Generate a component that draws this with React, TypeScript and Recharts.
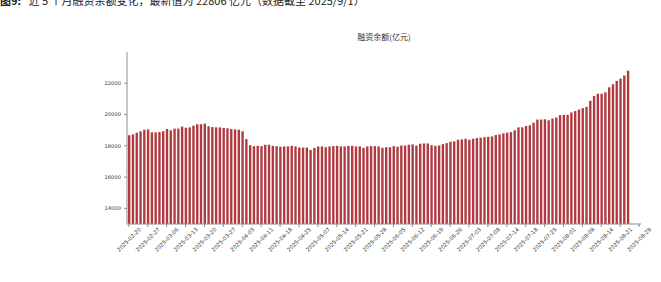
import { BarChart, Bar, XAxis, YAxis } from "recharts";

// tick labels, one every 5 trading days
const tickDates = [
  "2025-02-20", "2025-02-27", "2025-03-06", "2025-03-13", "2025-03-20", "2025-03-27",
  "2025-04-03", "2025-04-11", "2025-04-18", "2025-04-25", "2025-05-07", "2025-05-14",
  "2025-05-21", "2025-05-28", "2025-06-05", "2025-06-12", "2025-06-19", "2025-06-26",
  "2025-07-03", "2025-07-08", "2025-07-14", "2025-07-18", "2025-07-25", "2025-08-01",
  "2025-08-08", "2025-08-14", "2025-08-21", "2025-08-28",
];

// 融资余额 (亿元), one value per trading day
const financing = [
  18670, 18730, 18840, 18930, 19030, 19050, 18860, 18860, 18880, 18930,
  19080, 18990, 19100, 19100, 19230, 19160, 19180, 19290, 19380, 19380,
  19420, 19250, 19200, 19180, 19180, 19140, 19120, 19080, 19050, 19030,
  18930, 18430, 18040, 17980, 18000, 17980, 18070, 18070, 18000, 17980,
  17940, 17960, 17960, 18000, 17960, 17890, 17890, 17890, 17740, 17870,
  17960, 17960, 17910, 17960, 17980, 18000, 17960, 17960, 18000, 18000,
  17960, 17960, 17870, 17960, 17980, 17980, 17960, 17870, 17910, 17910,
  17980, 17940, 18020, 18020, 18070, 18090, 18020, 18130, 18150, 18150,
  18040, 18000, 18020, 18110, 18170, 18260, 18280, 18390, 18410, 18450,
  18390, 18450, 18500, 18520, 18560, 18580, 18600, 18690, 18730, 18800,
  18840, 18880, 18990, 19180, 19180, 19270, 19310, 19480, 19680, 19680,
  19700, 19630, 19740, 19810, 19960, 19980, 19980, 20130, 20220, 20320,
  20410, 20490, 20880, 21180, 21330, 21330, 21420, 21740, 21940, 22150,
  22300, 22490, 22806,
];

const yTicks = [14000, 16000, 18000, 20000, 22000];

const TICK_STEP = 5;
const SLOTS = (tickDates.length - 1) * TICK_STEP + 1;

const data = Array.from({ length: SLOTS }, (_, i) => ({
  i,
  value: i < financing.length ? financing[i] : null,
}));

const BAR   = "#b03a40";
const AXIS  = "#8c8c8c";
const TEXT  = "#3a3a3a";
const FONT  = "'DejaVu Sans', sans-serif";
const CJK   = "'Noto Sans CJK SC', sans-serif";

function DateTick({ x, y, payload }: any) {
  const label = tickDates[Math.round(payload.value / TICK_STEP)] ?? "";
  const cy = y + 10.5;
  return (
    <text
      x={x}
      y={cy}
      transform={`rotate(-45, ${x}, ${cy})`}
      textAnchor="middle"
      dominantBaseline="central"
      fontSize={5.4}
      fontFamily={FONT}
      fill={TEXT}
    >
      {label}
    </text>
  );
}

export default function App() {
  return (
    <div style={{ position: "fixed", left: 0, top: 0, width: 661, height: 282, background: "#fff", overflow: "hidden" }}>
      <div
        style={{
          position: "absolute", left: 0, top: -5, fontSize: 11, lineHeight: "11px",
          fontFamily: CJK, color: "#222", whiteSpace: "nowrap",
        }}
      >
        <b>图9:</b>&nbsp;&nbsp;&nbsp;近 5 个月融资余额变化，最新值为 22806 亿元（数据截至 2025/9/1）
      </div>
      <div
        style={{
          position: "absolute", left: 127, width: 514, top: 33, textAlign: "center",
          fontSize: 8, lineHeight: "8px", fontFamily: CJK, color: "#333",
        }}
      >
        融资余额(亿元)
      </div>
      <BarChart
        width={661}
        height={282}
        data={data}
        margin={{ top: 52, right: 20, left: 0, bottom: 0 }}
        barSize={2.4}
      >
        <XAxis
          dataKey="i"
          type="category"
          interval={TICK_STEP - 1}
          height={58}
          stroke={AXIS}
          tickSize={3}
          tick={<DateTick />}
        />
        <YAxis
          width={127}
          domain={[13000, 24000]}
          ticks={yTicks}
          stroke={AXIS}
          tickSize={3}
          tickMargin={3}
          tick={{ fontSize: 5.2, fill: TEXT, fontFamily: FONT }}
          allowDataOverflow
        />
        <Bar dataKey="value" fill={BAR} isAnimationActive={false} />
      </BarChart>
    </div>
  );
}
